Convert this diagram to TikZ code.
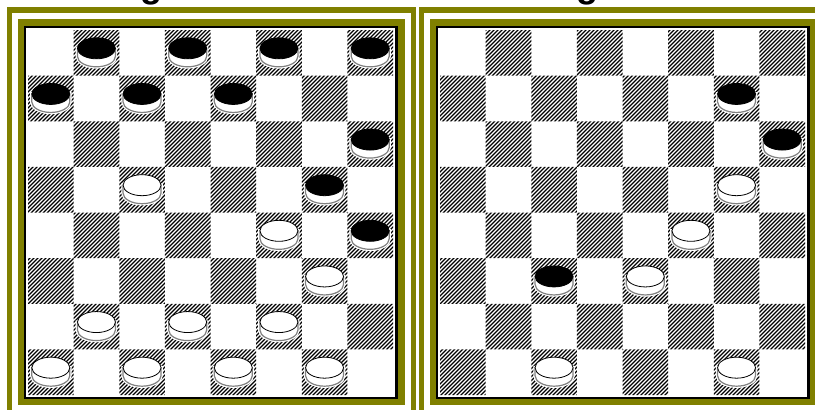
\documentclass[tikz,border=0pt]{standalone}
\usepackage{fontspec}
\setmainfont{Liberation Sans}
\definecolor{frameolive}{RGB}{128,128,0}
\definecolor{piecegray}{RGB}{128,128,128}
\tikzset{
  outerframe/.style={draw=frameolive, line width=5.5pt},
  innerframe/.style={draw=frameolive, line width=6.5pt},
  boardedge/.style={draw=black, line width=2.5pt, fill=white},
  hatchline/.style={draw=black, line width=1.3pt},
  titletext/.style={font=\fontsize{36}{36}\selectfont\bfseries, anchor=base, inner sep=0pt},
  pics/checker/.style={code={
    \draw[draw=piecegray, line width=1.2pt, fill=white, preaction={draw=white, line width=3.5pt}]
      (-19,-4.5) -- (-19,3.5) arc[start angle=180, end angle=360, x radius=19pt, y radius=10.5pt]
      -- (19,-4.5) -- cycle;
    \draw[draw=black, line width=0.8pt, fill=#1] (0,-4.5) ellipse [x radius=19pt, y radius=10.5pt];
  }}
}
\begin{document}
\begin{tikzpicture}[x=1pt,y=-1pt]
\useasboundingbox (0,0) rectangle (815,410);
\clip (0,0) rectangle (815,410);
\node[titletext] (title1) at (151,-2.5) {g};
\node[titletext] (title2) at (587,-2.5) {g};
\foreach \ox in {0,412} {
  \draw[outerframe] (9.5+\ox,9.8) rectangle (413.5+\ox,430);
  \draw[innerframe] (21+\ox,22.5) rectangle (401.5+\ox,402);
  \draw[boardedge] (25+\ox,27) rectangle (396.5+\ox,398);
  \begin{scope}
    \clip \foreach \r in {0,...,7} { \foreach \k in {0,...,3} {
      ({28+(2*\k+1-mod(\r,2))*45.625+\ox},{30+\r*45.625}) rectangle ++(45.625,45.625) } };
    \foreach \i in {0,...,184}
      \draw[hatchline] ({\ox-344+4*\i},400) -- ++(400,-400);
  \end{scope}
}
% left board pieces
\foreach \r/\c/\col in {0/1/black,0/3/black,0/5/black,0/7/black,1/0/black,1/2/black,1/4/black,2/7/black,3/6/black,4/7/black,
  3/2/white,4/5/white,5/6/white,6/1/white,6/3/white,6/5/white,7/0/white,7/2/white,7/4/white,7/6/white}
  \pic at ({28+(\c+0.5)*45.625},{30+(\r+0.5)*45.625}) {checker=\col};
% right board pieces
\foreach \r/\c/\col in {1/6/black,2/7/black,5/2/black,3/6/white,4/5/white,5/4/white,7/2/white,7/6/white}
  \pic at ({440+(\c+0.5)*45.625},{30+(\r+0.5)*45.625}) {checker=\col};
\end{tikzpicture}
\end{document}
